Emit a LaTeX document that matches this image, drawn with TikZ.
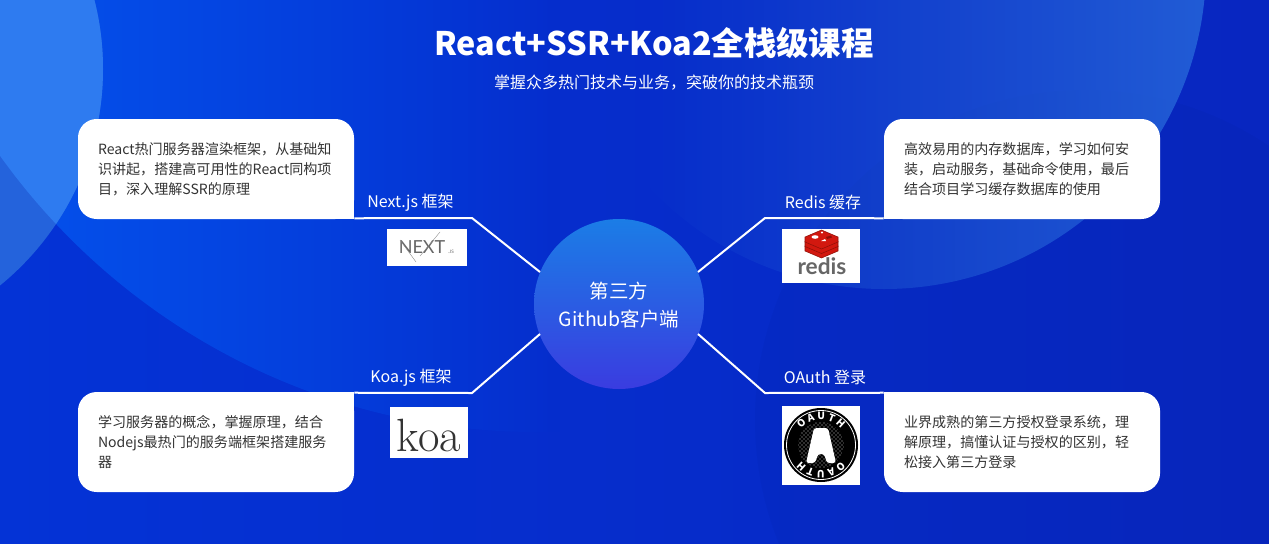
\documentclass[tikz,border=0pt]{standalone}
\usepackage{fontspec}
\setmainfont{Noto Sans CJK SC}
\newfontfamily\logoserif{Latin Modern Roman}
\newfontfamily\logosans{Lato}
\usetikzlibrary{calc,patterns,fadings,decorations.text}

\definecolor{bgleft}{HTML}{0433D6}
\definecolor{bgright}{HTML}{0826C0}
\definecolor{bright}{HTML}{0452EC}
\definecolor{ballone}{HTML}{2E7BF0}
\definecolor{balldim}{HTML}{2463DC}
\definecolor{balltwo}{HTML}{2462D8}
\definecolor{balltop}{HTML}{1B7DE6}
\definecolor{ballbot}{HTML}{3A3CE0}
\definecolor{cardtext}{HTML}{333333}
\definecolor{redisred}{HTML}{D2180F}
\definecolor{redisdark}{HTML}{8E1008}

\tikzfading[name=fadeeast, left color=transparent!0, right color=transparent!100]
\tikzfading[name=fadewest, left color=transparent!100, right color=transparent!0]

\tikzset{
  card/.style={fill=white, rounded corners=14pt, minimum width=207pt, minimum height=75pt, text=cardtext, font=\fontsize{10.55}{15}\selectfont, align=left, inner sep=0pt, text width=177pt},
  tag/.style={text=white, font=\fontsize{12}{14}\selectfont, inner sep=0pt},
  link/.style={draw=white, line width=1.5pt},
  oauthtext/.style={decorate, decoration={text along path, text align=center, text={|\bfseries\fontsize{7.5}{8}\selectfont\color{white}|O{ }A{ }U{ }T{ }H}}}
}

\begin{document}
\begin{tikzpicture}[x=0.75pt,y=-0.75pt]
\useasboundingbox (0,0) rectangle (1269,543);
\clip (0,0) rectangle (1269,543);

% background
\shade[left color=bgleft, right color=bgright] (0,0) rectangle (1269,543);
\fill[black, fill opacity=0.025] (1085,420) circle (330);
\begin{scope}
  \clip (537,-228) circle (660);
  \fill[bright, path fading=fadeeast] (0,-10) rectangle (560,560);
\end{scope}
\begin{scope}
  \clip (884,-33) circle (322);
  \fill[balltwo, path fading=fadewest] (640,-40) rectangle (1269,330);
\end{scope}
\fill[balldim] (-176,69) circle (279);
\begin{scope}
  \clip (537,-228) circle (660);
  \fill[ballone] (-176,69) circle (279);
\end{scope}

\coordinate (nextcorner) at (472,218);
\coordinate (rediscorner) at (765,218);
\coordinate (koacorner) at (472,393);
\coordinate (oauthcorner) at (765,393);

% title
\node[text=white, font=\bfseries\fontsize{24.3}{30}\selectfont, inner sep=0pt] (title) at (654,43.5) {React+SSR+Koa2全栈级课程};
\node[text=white, font=\fontsize{12}{15}\selectfont, inner sep=0pt] (subtitle) at (654,83) {掌握众多热门技术与业务，突破你的技术瓶颈};

% centre
\shade[top color=balltop, bottom color=ballbot] (619,304) circle (85);
\node[text=white, font=\fontsize{14.6}{21}\selectfont, align=center, inner sep=0pt] (hub) at (619,305) {第三方\\Github客户端};

% cards
\node[card] (nextcard) at (216,169) {React热门服务器渲染框架，从基础知\\识讲起，搭建高可用性的React同构项\\目，深入理解SSR的原理};
\fill[white] (nextcard.south east) rectangle ++(-20,-20);
\node[card] (rediscard) at (1022,169) {高效易用的内存数据库，学习如何安\\装，启动服务，基础命令使用，最后\\结合项目学习缓存数据库的使用};
\fill[white] (rediscard.south west) rectangle ++(20,-20);
\node[card] (koacard) at (216,442) {学习服务器的概念，掌握原理，结合\\Nodejs最热门的服务端框架搭建服务\\器};
\fill[white] (koacard.north east) rectangle ++(-20,20);
\node[card] (oauthcard) at (1022,442) {业界成熟的第三方授权登录系统，理\\解原理，搞懂认证与授权的区别，轻\\松接入第三方登录};
\fill[white] (oauthcard.north west) rectangle ++(20,20);

% links
\coordinate (hubnext) at (540,272);
\coordinate (hubredis) at (698,272);
\coordinate (hubkoa) at (540,334);
\coordinate (huboauth) at (698,334);
\draw[link] (nextcard.south east) ++(0,-1) -- (nextcorner) -- (hubnext);
\draw[link] (rediscard.south west) ++(0,-1) -- (rediscorner) -- (hubredis);
\draw[link] (koacard.north east) ++(0,1) -- (koacorner) -- (hubkoa);
\draw[link] (oauthcard.north west) ++(0,1) -- (oauthcorner) -- (huboauth);

\node[tag] (nexttag) at (410.5,202.5) {Next.js 框架};
\node[tag] (redistag) at (823,202.5) {Redis 缓存};
\node[tag] (koatag) at (411,377.5) {Koa.js 框架};
\node[tag] (oauthtag) at (825,377.5) {OAuth 登录};

% next logo
\fill[white] (387,229) rectangle (467,266);
\node[text=black!60, font=\logosans\fontsize{13.5}{14}\selectfont, inner sep=0pt] (nextlogo) at (422,247.5) {NEXT};
\node[text=black!60, font=\logosans\fontsize{3.5}{4}\selectfont, inner sep=0pt] (nextjs) at (451,252) {.JS};
\draw[black!45, line width=0.3pt] (400,240) -- (416,262);
\draw[black!45, line width=0.3pt] (420,256) -- (440,232);

% redis logo
\fill[white] (782,229) rectangle (860,283);
\foreach \lay in {9,4.5,0} {
  \fill[redisred, draw=redisdark, line width=0.4pt] (821.5,{230+\lay}) -- (838,{237+\lay}) -- (838,{242+\lay}) -- (821.5,{249+\lay}) -- (805,{242+\lay}) -- (805,{237+\lay}) -- cycle;
}
\fill[white] (815,237) ellipse (3.5 and 1.8);
\fill[white] (822,232.5) circle (1.2);
\fill[white] (821,241) -- (825,239) -- (826,241) -- cycle;
\fill[redisdark] (826,237) -- (831,235.5) -- (832,237.5) -- (827,239) -- cycle;
\node[text=black!60, font=\logosans\bfseries\fontsize{17}{17}\selectfont, inner sep=0pt] (redislogo) at (822,266) {redis};

% koa logo
\fill[white] (390,407) rectangle (468,458);
\node[text=black!80, font=\logoserif\fontsize{35}{35}\selectfont, inner sep=0pt] (koalogo) at (429,435) {koa};

% oauth logo
\fill[white] (782,406) rectangle (860,485);
\coordinate (oauthmid) at (821,445);
\begin{scope}[shift={(oauthmid)}, x=0.75pt, y=0.75pt]
  \fill[black] (0,0) circle (37);
  \draw[white, line width=0.6pt] (0,0) circle (34.5);
  \fill[pattern=crosshatch dots, pattern color=white!80!black] (0,0) circle (23);
  \fill[white, rounded corners=2pt] (-15,-18) -- (-7,17) -- (7,17) -- (15,-18) -- (6,-18) -- (3,-9) -- (-3,-9) -- (-6,-18) -- cycle;
  \path[oauthtext] (165:25.5) arc (165:15:25.5);
  \path[oauthtext] (-15:25.5) arc (-15:-165:25.5);
\end{scope}

\end{tikzpicture}
\end{document}
